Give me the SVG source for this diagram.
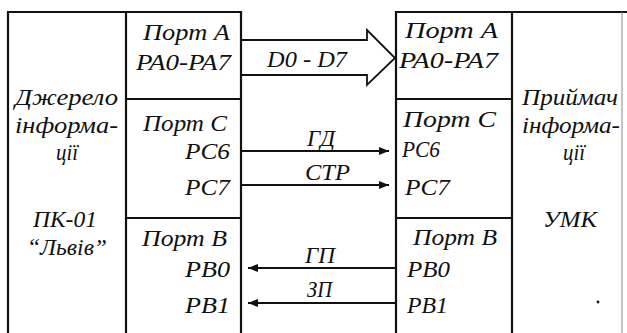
<svg xmlns="http://www.w3.org/2000/svg" width="627" height="333" viewBox="0 0 627 333">
<style>
.t{font-family:'Liberation Serif',serif;font-style:italic;font-size:23.5px;fill:#111}
.b{fill:none;stroke:#111;stroke-width:2.2}
.c{fill:none;stroke:#111;stroke-width:1.8}
</style>
<defs>
<marker id="ah" viewBox="0 0 10 8" refX="10" refY="4" markerWidth="10" markerHeight="8" markerUnits="userSpaceOnUse" orient="auto">
<path d="M0,0 L10,4 L0,8 Z" fill="#111"/>
</marker>
</defs>
<rect width="627" height="333" fill="#fff"/>
<g id="source">
<path class="b" d="M8,333 V12 H126 V333"/>
<text class="t" x="15" y="105" textLength="103" lengthAdjust="spacingAndGlyphs">Джерело</text>
<text class="t" x="15" y="133" textLength="103" lengthAdjust="spacingAndGlyphs">інформа-</text>
<text class="t" x="56" y="160" textLength="22" lengthAdjust="spacingAndGlyphs">ції</text>
<text class="t" x="33" y="227" textLength="64" lengthAdjust="spacingAndGlyphs">ПК-01</text>
<text class="t" x="27" y="255" textLength="80" lengthAdjust="spacingAndGlyphs">“Львів”</text>
</g>
<g id="src-ports">
<path class="b" d="M126,12 H241 V333 M126,99 H241 M126,218 H241"/>
<text class="t" x="143" y="40" textLength="87" lengthAdjust="spacingAndGlyphs">Порт A</text>
<text class="t" x="136" y="70" textLength="95" lengthAdjust="spacingAndGlyphs">PA0-PA7</text>
<text class="t" x="143" y="131" textLength="84" lengthAdjust="spacingAndGlyphs">Порт C</text>
<text class="t" x="185" y="159" textLength="45" lengthAdjust="spacingAndGlyphs">PC6</text>
<text class="t" x="185" y="195" textLength="45" lengthAdjust="spacingAndGlyphs">PC7</text>
<text class="t" x="142" y="246" textLength="85" lengthAdjust="spacingAndGlyphs">Порт B</text>
<text class="t" x="185" y="277" textLength="45" lengthAdjust="spacingAndGlyphs">PB0</text>
<text class="t" x="185" y="313" textLength="45" lengthAdjust="spacingAndGlyphs">PB1</text>
</g>
<g id="dst-ports">
<path class="b" d="M396,333 V12 H512 V333 M396,99 H512 M396,218 H512"/>
<text class="t" x="405" y="38" textLength="93" lengthAdjust="spacingAndGlyphs">Порт A</text>
<text class="t" x="399" y="68" textLength="99" lengthAdjust="spacingAndGlyphs">PA0-PA7</text>
<text class="t" x="403" y="127" textLength="93" lengthAdjust="spacingAndGlyphs">Порт C</text>
<text class="t" x="402" y="157" textLength="38" lengthAdjust="spacingAndGlyphs">PC6</text>
<text class="t" x="405" y="195" textLength="45" lengthAdjust="spacingAndGlyphs">PC7</text>
<text class="t" x="413" y="245" textLength="84" lengthAdjust="spacingAndGlyphs">Порт B</text>
<text class="t" x="407" y="277" textLength="43" lengthAdjust="spacingAndGlyphs">PB0</text>
<text class="t" x="407" y="313" textLength="41" lengthAdjust="spacingAndGlyphs">PB1</text>
</g>
<g id="receiver">
<path class="b" d="M512,12 H627"/>
<path d="M622,12 V333" fill="none" stroke="#888" stroke-width="1"/>
<text class="t" x="522" y="105" textLength="96" lengthAdjust="spacingAndGlyphs">Приймач</text>
<text class="t" x="522" y="133" textLength="98" lengthAdjust="spacingAndGlyphs">інформа-</text>
<text class="t" x="563" y="160" textLength="22" lengthAdjust="spacingAndGlyphs">ції</text>
<text class="t" x="543" y="227" textLength="54" lengthAdjust="spacingAndGlyphs">УМК</text>
<circle cx="598" cy="302" r="1.4" fill="#111"/>
</g>
<g id="connectors">
<path class="c" d="M242,40 H367 V30 L395,58 L367,85 V75 H242"/>
<text class="t" x="267" y="67" textLength="80" lengthAdjust="spacingAndGlyphs">D0 - D7</text>
<path class="c" d="M242,151 H389" marker-end="url(#ah)"/>
<text class="t" x="307" y="146" textLength="28" lengthAdjust="spacingAndGlyphs">ГД</text>
<path class="c" d="M242,185 H389" marker-end="url(#ah)"/>
<text class="t" x="305" y="180" textLength="45" lengthAdjust="spacingAndGlyphs">СТР</text>
<path class="c" d="M395,268 H248" marker-end="url(#ah)"/>
<text class="t" x="305" y="263" textLength="30" lengthAdjust="spacingAndGlyphs">ГП</text>
<path class="c" d="M395,303 H248" marker-end="url(#ah)"/>
<text class="t" x="307" y="297" textLength="25" lengthAdjust="spacingAndGlyphs">ЗП</text>
</g>
</svg>
